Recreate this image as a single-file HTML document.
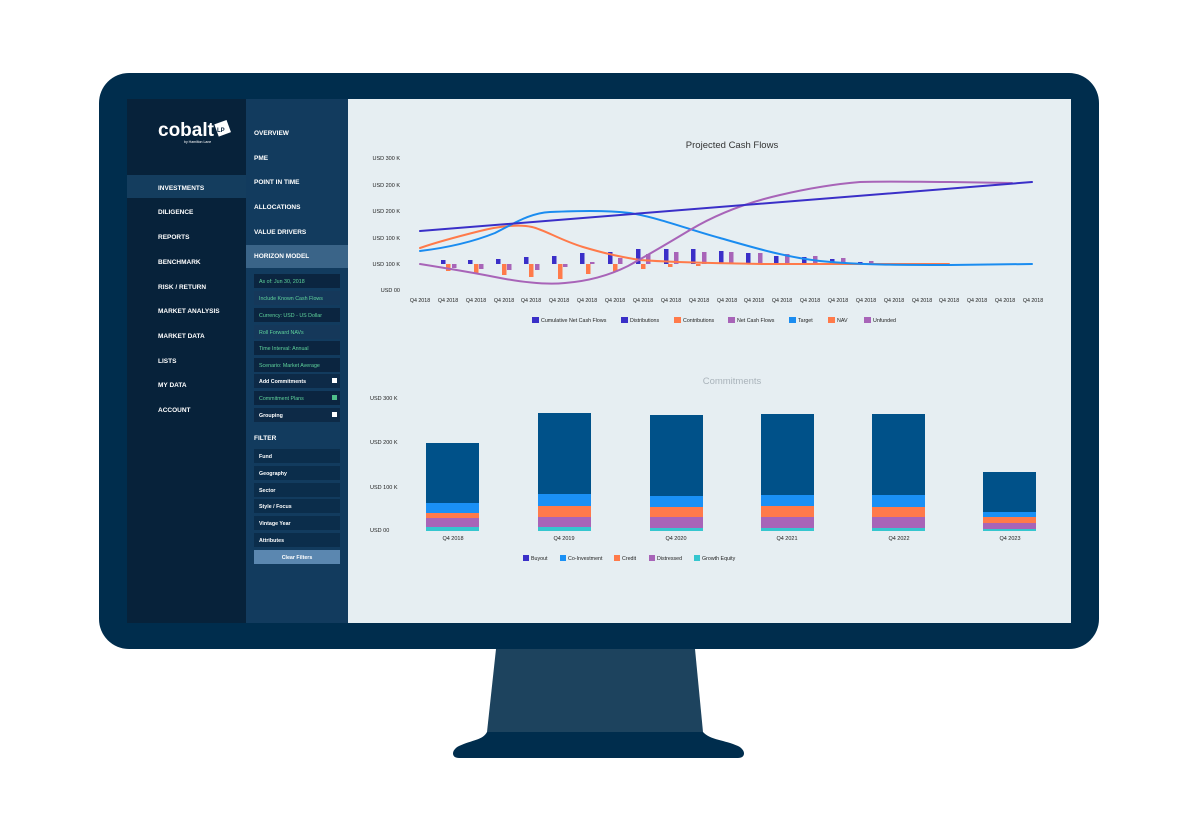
<!DOCTYPE html>
<html><head><meta charset="utf-8"><style>
html,body{margin:0;padding:0;background:#fff;}
svg{display:block;font-family:"Liberation Sans",Arial,sans-serif;}
</style></head><body>
<svg width="1198" height="831" viewBox="0 0 1198 831" xmlns="http://www.w3.org/2000/svg">
<!-- monitor -->
<rect x="99" y="73" width="1000" height="576" rx="30" fill="#002d4d"/>
<polygon points="496,649 695,649 703,732 487,732" fill="#1d435e"/>
<path d="M487,732 L703,732 C710,740 725,740 738,746 C746,750 746,758 738,758 L459,758 C451,758 451,750 459,746 C472,740 483,740 487,732 Z" fill="#002d4d"/>
<!-- screen -->
<rect x="127" y="99" width="120" height="524" fill="#07223a"/>
<rect x="246" y="99" width="102" height="524" fill="#123b5e"/>
<rect x="348" y="99" width="723" height="524" fill="#e6eef2"/>
<!-- logo -->
<text x="158" y="136" font-size="19" font-weight="bold" fill="#fff">cobalt</text>
<rect x="216" y="122" width="13" height="13" fill="#fff" transform="rotate(-20 222 128)"/>
<text x="217" y="132" font-size="6" font-weight="bold" fill="#07223a">LP</text>
<text x="184" y="143" font-size="3.5" fill="#fff">by Hamilton Lane</text>
<!-- left nav -->
<rect x="127" y="175" width="119" height="23" fill="#143d5e"/>
<g font-size="6.5" font-weight="bold" fill="#fff">
<text x="158" y="190">INVESTMENTS</text>
<text x="158" y="214">DILIGENCE</text>
<text x="158" y="239">REPORTS</text>
<text x="158" y="264">BENCHMARK</text>
<text x="158" y="289">RISK / RETURN</text>
<text x="158" y="313">MARKET ANALYSIS</text>
<text x="158" y="338">MARKET DATA</text>
<text x="158" y="363">LISTS</text>
<text x="158" y="387">MY DATA</text>
<text x="158" y="412">ACCOUNT</text>
</g>
<!-- second nav -->
<rect x="246" y="245" width="102" height="23" fill="#3a6488"/>
<g font-size="6.5" font-weight="bold" fill="#fff">
<text x="254" y="135">OVERVIEW</text>
<text x="254" y="160">PME</text>
<text x="254" y="184">POINT IN TIME</text>
<text x="254" y="209">ALLOCATIONS</text>
<text x="254" y="234">VALUE DRIVERS</text>
<text x="254" y="258">HORIZON MODEL</text>
<text x="254" y="440">FILTER</text>
</g>
<g>
<rect x="254" y="274" width="86" height="14" fill="#0b2540"/>
<rect x="254" y="291" width="86" height="14" fill="#15385a"/>
<rect x="254" y="308" width="86" height="14" fill="#0b2540"/>
<rect x="254" y="325" width="86" height="14" fill="#15385a"/>
<rect x="254" y="341" width="86" height="14" fill="#0b2540"/>
<rect x="254" y="358" width="86" height="14" fill="#0b2540"/>
<rect x="254" y="374" width="86" height="14" fill="#0d2a47"/>
<rect x="254" y="391" width="86" height="14" fill="#0b2540"/>
<rect x="254" y="408" width="86" height="14" fill="#0d2a47"/>
<rect x="332" y="378" width="5" height="5" fill="#fff"/>
<rect x="332" y="395" width="5" height="5" fill="#4fbf8a"/>
<rect x="332" y="412" width="5" height="5" fill="#fff"/>
</g>
<g font-size="5.3" fill="#5fd39b">
<text x="259" y="283">As of: Jun 30, 2018</text>
<text x="259" y="300">Include Known Cash Flows</text>
<text x="259" y="317">Currency: USD - US Dollar</text>
<text x="259" y="334">Roll Forward NAVs</text>
<text x="259" y="350">Time Interval: Annual</text>
<text x="259" y="367">Scenario: Market Average</text>
<text x="259" y="400">Commitment Plans</text>
</g>
<g font-size="5.3" fill="#fff" font-weight="bold">
<text x="259" y="383">Add Commitments</text>
<text x="259" y="417">Grouping</text>
</g>
<g fill="#0b2d4b">
<rect x="254" y="449" width="86" height="14"/>
<rect x="254" y="466" width="86" height="14"/>
<rect x="254" y="483" width="86" height="14"/>
<rect x="254" y="499" width="86" height="14"/>
<rect x="254" y="516" width="86" height="14"/>
<rect x="254" y="533" width="86" height="14"/>
</g>
<rect x="254" y="550" width="86" height="14" fill="#5b87b0"/>
<g font-size="5.3" fill="#fff" font-weight="bold">
<text x="259" y="458">Fund</text>
<text x="259" y="475">Geography</text>
<text x="259" y="492">Sector</text>
<text x="259" y="508">Style / Focus</text>
<text x="259" y="525">Vintage Year</text>
<text x="259" y="542">Attributes</text>
<text x="297" y="559" text-anchor="middle">Clear Filters</text>
</g>

<!-- Top chart -->
<text x="732" y="148" font-size="9.5" fill="#333" text-anchor="middle">Projected Cash Flows</text>
<g font-size="5.5" fill="#222" text-anchor="end">
<text x="400" y="160">USD 300 K</text>
<text x="400" y="187">USD 200 K</text>
<text x="400" y="213">USD 200 K</text>
<text x="400" y="240">USD 100 K</text>
<text x="400" y="266">USD 100 K</text>
<text x="400" y="292">USD 00</text>
</g>
<g font-size="5.3" fill="#222" text-anchor="middle">
<text x="420" y="302">Q4 2018</text><text x="448" y="302">Q4 2018</text><text x="476" y="302">Q4 2018</text><text x="504" y="302">Q4 2018</text><text x="531" y="302">Q4 2018</text><text x="559" y="302">Q4 2018</text><text x="587" y="302">Q4 2018</text><text x="615" y="302">Q4 2018</text><text x="643" y="302">Q4 2018</text><text x="671" y="302">Q4 2018</text><text x="699" y="302">Q4 2018</text><text x="727" y="302">Q4 2018</text><text x="754" y="302">Q4 2018</text><text x="782" y="302">Q4 2018</text><text x="810" y="302">Q4 2018</text><text x="838" y="302">Q4 2018</text><text x="866" y="302">Q4 2018</text><text x="894" y="302">Q4 2018</text><text x="922" y="302">Q4 2018</text><text x="949" y="302">Q4 2018</text><text x="977" y="302">Q4 2018</text><text x="1005" y="302">Q4 2018</text><text x="1033" y="302">Q4 2018</text>
</g>
<!-- bars: distributions -->
<g fill="#3a2fc8">
<rect x="441" y="260" width="4.5" height="4"/><rect x="468" y="260" width="4.5" height="4"/><rect x="496" y="259" width="4.5" height="5"/><rect x="524" y="257" width="4.5" height="7"/><rect x="552" y="256" width="4.5" height="8"/><rect x="580" y="253" width="4.5" height="11"/><rect x="608" y="252" width="4.5" height="12"/><rect x="636" y="249" width="4.5" height="15"/><rect x="664" y="249" width="4.5" height="15"/><rect x="691" y="249" width="4.5" height="15"/><rect x="719" y="251" width="4.5" height="13"/><rect x="746" y="253" width="4.5" height="11"/><rect x="774" y="256" width="4.5" height="8"/><rect x="802" y="257" width="4.5" height="7"/><rect x="830" y="259" width="4.5" height="5"/><rect x="858" y="262" width="4.5" height="2"/><rect x="886" y="263" width="4.5" height="1"/>
</g>
<g fill="#ff7a4a">
<rect x="446" y="264" width="4.5" height="7"/><rect x="474" y="264" width="4.5" height="9"/><rect x="502" y="264" width="4.5" height="11"/><rect x="529" y="264" width="4.5" height="13"/><rect x="558" y="264" width="4.5" height="15"/><rect x="586" y="264" width="4.5" height="10"/><rect x="613" y="264" width="4.5" height="8"/><rect x="641" y="264" width="4.5" height="5"/><rect x="668" y="264" width="4.5" height="3"/><rect x="696" y="264" width="4.5" height="2"/>
</g>
<g fill="#a864b8">
<rect x="452" y="264" width="4.5" height="4"/><rect x="479" y="264" width="4.5" height="5"/><rect x="507" y="264" width="4.5" height="6"/><rect x="535" y="264" width="4.5" height="6"/><rect x="563" y="264" width="4.5" height="3"/><rect x="590" y="262" width="4.5" height="2"/><rect x="618" y="258" width="4.5" height="6"/><rect x="646" y="254" width="4.5" height="10"/><rect x="674" y="252" width="4.5" height="12"/><rect x="702" y="252" width="4.5" height="12"/><rect x="729" y="252" width="4.5" height="12"/><rect x="758" y="253" width="4.5" height="11"/><rect x="785" y="254" width="4.5" height="10"/><rect x="813" y="256" width="4.5" height="8"/><rect x="841" y="258" width="4.5" height="6"/><rect x="869" y="261" width="4.5" height="3"/>
</g>
<g fill="none" stroke-width="2" stroke-linejoin="round" stroke-linecap="round">
<path d="M420,248 C440,241 460,236 480,231 C500,226 520,224 532,227 C545,230 560,240 583,247 C600,252 615,256 640,260 C680,263 720,263 762,264 L949,264" stroke="#ff7a4a"/>
<path d="M420,251 C445,248 470,243 495,233 C515,223 530,213 550,212 C575,211 605,210 630,213 C660,218 690,230 720,238 C755,248 785,257 820,261 C860,265 900,265 950,265 L1032,264" stroke="#1a8cf0"/>
<path d="M420,264 C445,268 470,272 495,277 C520,282 545,285 565,283 C590,281 610,275 628,266 C650,254 670,242 690,230 C715,215 745,203 780,195 C810,188 835,184 860,182 C890,181 920,182 950,182 L1012,183" stroke="#a864b8"/>
<path d="M420,231 L1032,182" stroke="#3a2fc8"/>
</g>
<g font-size="5.3" fill="#222">
<rect x="532" y="317" width="7" height="6" fill="#3a2fc8"/><text x="541" y="322">Cumulative Net Cash Flows</text>
<rect x="621" y="317" width="7" height="6" fill="#3a2fc8"/><text x="630" y="322">Distributions</text>
<rect x="674" y="317" width="7" height="6" fill="#ff7a4a"/><text x="683" y="322">Contributions</text>
<rect x="728" y="317" width="7" height="6" fill="#a864b8"/><text x="737" y="322">Net Cash Flows</text>
<rect x="789" y="317" width="7" height="6" fill="#1a8cf0"/><text x="798" y="322">Target</text>
<rect x="828" y="317" width="7" height="6" fill="#ff7a4a"/><text x="837" y="322">NAV</text>
<rect x="864" y="317" width="7" height="6" fill="#a864b8"/><text x="873" y="322">Unfunded</text>
</g>

<!-- Bottom chart -->
<text x="732" y="384" font-size="9.5" fill="#aab4bb" text-anchor="middle">Commitments</text>
<g font-size="5.5" fill="#222">
<text x="370" y="400">USD 300 K</text>
<text x="370" y="444">USD 200 K</text>
<text x="370" y="489">USD 100 K</text>
<text x="370" y="532">USD 00</text>
</g>
<g>
<!-- 2018 -->
<rect x="426" y="443" width="53" height="60" fill="#005189"/><rect x="426" y="503" width="53" height="10" fill="#1a90f5"/><rect x="426" y="513" width="53" height="5" fill="#ff7a4a"/><rect x="426" y="518" width="53" height="9" fill="#a864b8"/><rect x="426" y="527" width="53" height="4" fill="#35c6cf"/>
<!-- 2019 -->
<rect x="538" y="413" width="53" height="81" fill="#005189"/><rect x="538" y="494" width="53" height="12" fill="#1a90f5"/><rect x="538" y="506" width="53" height="11" fill="#ff7a4a"/><rect x="538" y="517" width="53" height="10" fill="#a864b8"/><rect x="538" y="527" width="53" height="4" fill="#35c6cf"/>
<!-- 2020 -->
<rect x="650" y="415" width="53" height="81" fill="#005189"/><rect x="650" y="496" width="53" height="11" fill="#1a90f5"/><rect x="650" y="507" width="53" height="10" fill="#ff7a4a"/><rect x="650" y="517" width="53" height="11" fill="#a864b8"/><rect x="650" y="528" width="53" height="3" fill="#35c6cf"/>
<!-- 2021 -->
<rect x="761" y="414" width="53" height="81" fill="#005189"/><rect x="761" y="495" width="53" height="11" fill="#1a90f5"/><rect x="761" y="506" width="53" height="11" fill="#ff7a4a"/><rect x="761" y="517" width="53" height="11" fill="#a864b8"/><rect x="761" y="528" width="53" height="3" fill="#35c6cf"/>
<!-- 2022 -->
<rect x="872" y="414" width="53" height="81" fill="#005189"/><rect x="872" y="495" width="53" height="12" fill="#1a90f5"/><rect x="872" y="507" width="53" height="10" fill="#ff7a4a"/><rect x="872" y="517" width="53" height="11" fill="#a864b8"/><rect x="872" y="528" width="53" height="3" fill="#35c6cf"/>
<!-- 2023 -->
<rect x="983" y="472" width="53" height="40" fill="#005189"/><rect x="983" y="512" width="53" height="5" fill="#1a90f5"/><rect x="983" y="517" width="53" height="6" fill="#ff7a4a"/><rect x="983" y="523" width="53" height="6" fill="#a864b8"/><rect x="983" y="529" width="53" height="2" fill="#35c6cf"/>
</g>
<g font-size="5.5" fill="#222" text-anchor="middle">
<text x="453" y="540">Q4 2018</text><text x="564" y="540">Q4 2019</text><text x="676" y="540">Q4 2020</text><text x="787" y="540">Q4 2021</text><text x="899" y="540">Q4 2022</text><text x="1010" y="540">Q4 2023</text>
</g>
<g font-size="5.3" fill="#222">
<rect x="523" y="555" width="6" height="6" fill="#3a2fc8"/><text x="531" y="560">Buyout</text>
<rect x="560" y="555" width="6" height="6" fill="#1a90f5"/><text x="568" y="560">Co-Investment</text>
<rect x="614" y="555" width="6" height="6" fill="#ff7a4a"/><text x="622" y="560">Credit</text>
<rect x="649" y="555" width="6" height="6" fill="#a864b8"/><text x="657" y="560">Distressed</text>
<rect x="694" y="555" width="6" height="6" fill="#35c6cf"/><text x="702" y="560">Growth Equity</text>
</g>
</svg>
</body></html>
